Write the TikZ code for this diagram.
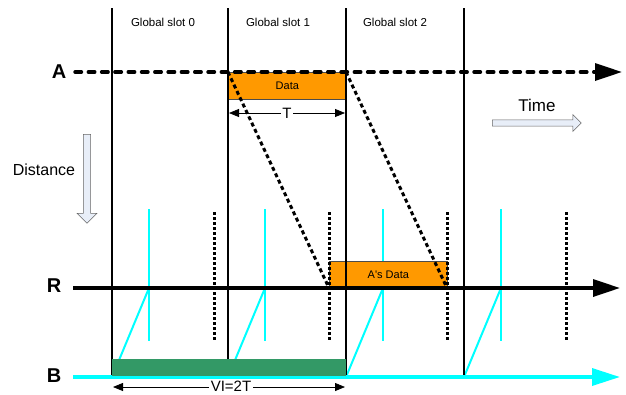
\documentclass[tikz,border=0pt]{standalone}
\usepackage{fontspec}
\setmainfont{Liberation Sans}
\usetikzlibrary{arrows.meta,shapes.arrows}
\definecolor{dataorange}{HTML}{FF9900}
\definecolor{vigreen}{HTML}{339966}
\definecolor{bcyan}{HTML}{00FFFF}
\definecolor{arrowfill}{HTML}{E8EEF8}
\tikzset{
  slotline/.style={line width=1.8pt,black},
  axisA/.style={line width=3.4pt,line cap=round,dash pattern=on 6.5pt off 6.8pt,-{Triangle[length=27pt,width=17pt]}},
  axisR/.style={line width=3.4pt,-{Triangle[length=27pt,width=17pt]}},
  axisB/.style={line width=3.4pt,bcyan,-{Triangle[length=28pt,width=17pt]}},
  prop/.style={line width=3pt,dash pattern=on 4pt off 3pt},
  dotv/.style={line width=3pt,dash pattern=on 3pt off 2pt},
  cyanln/.style={line width=2pt,bcyan},
  databox/.style={fill=dataorange,draw=black!70,line width=0.7pt},
  dimarrow/.style={line width=0.8pt,{Triangle[length=10pt,width=8pt]}-{Triangle[length=10pt,width=8pt]}},
  slotlabel/.style={font=\fontsize{11.5}{13}\selectfont},
  biglabel/.style={font=\fontsize{20}{22}\selectfont\bfseries},
  blockarrow/.style={single arrow,draw=gray!80!black,fill=arrowfill,line width=0.6pt,minimum height=#1,single arrow head extend=4pt,inner sep=2pt,minimum width=17pt},
}
\begin{document}
\begin{tikzpicture}[x=1pt,y=-1pt]
\useasboundingbox (0,0) rectangle (626,394);
% slot boundaries
\coordinate (s0) at (112,8); \coordinate (s0b) at (112,378);
\coordinate (s1) at (228,8); \coordinate (s1b) at (228,378);
\coordinate (s2) at (346,8); \coordinate (s2b) at (346,378);
\coordinate (s3) at (464,8); \coordinate (s3b) at (464,378);
% cyan lines
\foreach \x/\s in {149/112,265/228,383/346,501/464}{
  \draw[cyanln] (\x,209) -- (\x,341);
  \draw[cyanln] (\s,377) -- (\x,288);
}
% orange boxes
\node[databox,minimum width=118pt,minimum height=27pt,inner sep=0pt,anchor=north west] (data) at (228,72) {};
\node[font=\fontsize{11}{13}\selectfont] at (data.center) {Data};
\node[databox,minimum width=118pt,minimum height=27pt,inner sep=0pt,anchor=north west] (adata) at (329,261) {};
\node[font=\fontsize{11}{13}\selectfont] at (adata.center) {A\textquotesingle s Data};
% slot lines
\draw[slotline] (s0) -- (s0b);
\draw[slotline] (s1) -- (s1b);
\draw[slotline] (s2) -- (s2b);
\draw[slotline] (s3) -- (s3b);
% slot labels
\node[slotlabel] (g0) at (163,22) {Global slot 0};
\node[slotlabel] (g1) at (278,22) {Global slot 1};
\node[slotlabel] (g2) at (395,22) {Global slot 2};
% B axis and green box
\coordinate (Bs) at (73,377); \coordinate (Be) at (620,377);
\draw[axisB] (Bs) -- (Be);
\node[fill=vigreen,minimum width=234pt,minimum height=17pt,inner sep=0pt,anchor=north west] (vi) at (112,358.5) {};
% R axis
\coordinate (Rs) at (73,288); \coordinate (Re) at (620,288);
\draw[axisR] (Rs) -- (Re);
% A axis
\coordinate (As) at (75,72); \coordinate (Ae) at (622,72);
\draw[axisA] (As) -- (Ae);
% dotted verticals
\foreach \x in {214,329,447,566}{
  \draw[dotv] (\x,212) -- (\x,341);
}
% propagation
\coordinate (p1) at (228,72); \coordinate (q1) at (329,288);
\coordinate (p2) at (346,72); \coordinate (q2) at (447,288);
\draw[prop] (p1) -- (q1);
\draw[prop] (p2) -- (q2);
% labels
\node[biglabel] (lA) at (59,72) {A};
\node[biglabel] (lR) at (54,286) {R};
\node[biglabel] (lB) at (54,376) {B};
% T dimension
\coordinate (t1) at (229,113); \coordinate (t2) at (345,113);
\draw[dimarrow] (t1) -- (t2);
\node[fill=white,inner sep=1.5pt,font=\fontsize{15}{17}\selectfont] (T) at (287,113) {T};
% VI dimension
\coordinate (v1) at (113,387); \coordinate (v2) at (345,387);
\draw[dimarrow] (v1) -- (v2);
\node[fill=white,inner xsep=1.5pt,inner ysep=0pt,anchor=base,font=\fontsize{15}{17}\selectfont] (VI) at (231,391.5) {VI=2T};
% Time
\node[font=\fontsize{17}{19}\selectfont] (time) at (537,105) {Time};
\node[blockarrow=89pt,anchor=tail] (tarr) at (492,123) {};
% Distance
\node[font=\fontsize{16}{18}\selectfont] (dist) at (44,170) {Distance};
\node[blockarrow=89pt,shape border rotate=270,anchor=tail,minimum width=20pt] (darr) at (87,134) {};
\end{tikzpicture}
\end{document}
